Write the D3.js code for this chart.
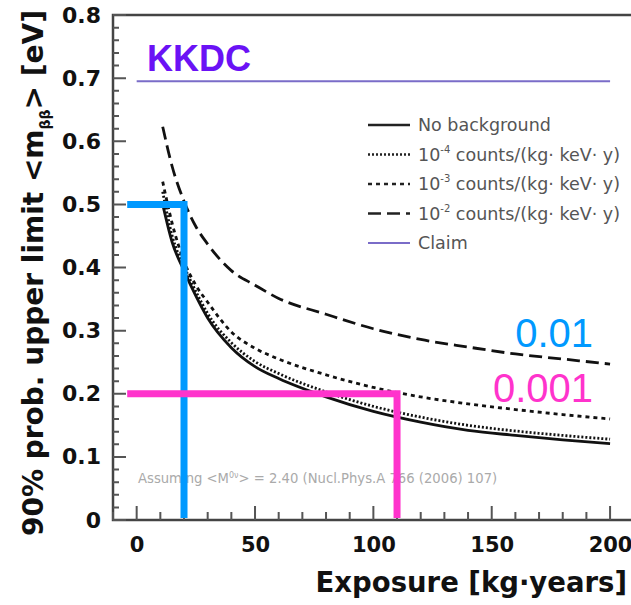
<!DOCTYPE html>
<html>
<head>
<meta charset="utf-8">
<script src="https://cdn.jsdelivr.net/npm/d3@7"></script>
<style>
  body { margin: 0; background: #fff; }
  svg { display: block; font-family: "Liberation Sans", Arial, sans-serif; }
</style>
</head>
<body>
<div id="chart"></div>
<script>
// exposure values (kg·years)
const exposure = [11, 15, 20, 25, 30, 40, 50, 60, 80, 100, 120, 140, 160, 180, 200];
// upper limits on <m_bb> (eV) for each background level
const noBackground = [0.50, 0.44, 0.395, 0.355, 0.320, 0.273, 0.243, 0.224, 0.195, 0.172, 0.155, 0.142, 0.134, 0.127, 0.121];
const bkg1e4 = [0.52, 0.45, 0.402, 0.362, 0.327, 0.281, 0.251, 0.232, 0.203, 0.180, 0.163, 0.150, 0.141, 0.134, 0.128];
const bkg1e3 = [0.536, 0.47, 0.41, 0.372, 0.345, 0.298, 0.272, 0.255, 0.230, 0.210, 0.195, 0.184, 0.175, 0.167, 0.160];
const bkg1e2 = [0.623, 0.56, 0.505, 0.465, 0.437, 0.395, 0.372, 0.351, 0.326, 0.303, 0.286, 0.274, 0.263, 0.255, 0.247];
const claimValue = 0.695;
const claimRange = [0, 200];

const xTicks = [0, 50, 100, 150, 200];
const yTicks = [0, 0.1, 0.2, 0.3, 0.4, 0.5, 0.6, 0.7, 0.8];
const xMinor = d3.range(-10, 211, 10);
const yMinor = d3.range(0, 41).map(i => i * 0.02);

// overlay guide lines
const blueMark = { exposure: 20, limit: 0.5, label: '0.01' };
const pinkMark = { exposure: 110, limit: 0.2, label: '0.001' };
const guideStart = -4;

const series = [
  { name: 'No background', exp: null, values: noBackground, dash: null },
  { name: 'counts/(kg· keV· y)', exp: '-4', values: bkg1e4, dash: '2,2' },
  { name: 'counts/(kg· keV· y)', exp: '-3', values: bkg1e3, dash: '4,4' },
  { name: 'counts/(kg· keV· y)', exp: '-2', values: bkg1e2, dash: '13,6' }
];

const w = 631;
const h = 605;
const padL = 113, padT = 15, baseY = 520;
const boldFont = '"DejaVu Sans", sans-serif';

const x = d3.scaleLinear().domain([-10, 210]).range([padL, padL + 220 * 2.367]);
const y = d3.scaleLinear().domain([0, 0.8]).range([baseY, padT]);

const svg = d3.select('#chart').append('svg')
  .attr('width', w)
  .attr('height', h);

// frame
svg.append('path')
  .attr('d', `M${w},${y(0.8)}H${x(-10)}V${y(0)}H${w}`)
  .attr('fill', 'none')
  .attr('stroke', '#444')
  .attr('stroke-width', 2.5);

// tick marks (inward)
const tickPath = d3.path();
xMinor.forEach(d => {
  tickPath.moveTo(x(d), y(0));
  tickPath.lineTo(x(d), y(0) - (d % 50 === 0 ? 14 : 8));
});
yMinor.forEach((d, i) => {
  tickPath.moveTo(x(-10), y(d));
  tickPath.lineTo(x(-10) + (i % 5 === 0 ? 13 : 6), y(d));
});
svg.append('path')
  .attr('d', tickPath.toString())
  .attr('fill', 'none')
  .attr('stroke', '#555')
  .attr('stroke-width', 2);

// tick labels
svg.append('g')
  .attr('transform', `translate(0,${baseY})`)
  .call(d3.axisBottom(x).tickValues(xTicks).tickSize(0).tickPadding(17).tickFormat(d3.format('d')))
  .call(g => g.select('.domain').remove())
  .call(g => g.selectAll('text').attr('font-size', 21).attr('font-weight', 'bold').attr('fill', '#111')
    .attr('font-family', boldFont));
svg.append('g')
  .attr('transform', `translate(${padL},0)`)
  .call(d3.axisLeft(y).tickValues(yTicks).tickSize(0).tickPadding(12)
    .tickFormat(d => d === 0 ? '0' : d3.format('.1f')(d)))
  .call(g => g.select('.domain').remove())
  .call(g => g.selectAll('text').attr('font-size', 22).attr('font-weight', 'bold').attr('fill', '#111')
    .attr('font-family', boldFont));

// claim line
svg.append('line')
  .attr('x1', x(claimRange[0])).attr('x2', x(claimRange[1]))
  .attr('y1', y(claimValue)).attr('y2', y(claimValue))
  .attr('stroke', '#7a6cc8').attr('stroke-width', 2);

svg.append('text')
  .attr('x', 147).attr('y', 71)
  .attr('font-size', 36).attr('font-weight', 'bold').attr('fill', '#6a12f5')
  .text('KKDC');

// curves
const line = d3.line()
  .x((d, i) => x(exposure[i]))
  .y(d => y(d))
  .curve(d3.curveMonotoneX);

series.forEach(s => {
  svg.append('path')
    .datum(s.values)
    .attr('d', line)
    .attr('fill', 'none')
    .attr('stroke', '#111')
    .attr('stroke-width', 2.8)
    .attr('stroke-dasharray', s.dash);
});

// legend
const legend = svg.append('g').attr('transform', 'translate(368,125)')
  .attr('font-family', '"DejaVu Sans", sans-serif');
const rowH = 29.5;
series.forEach((s, i) => {
  legend.append('line')
    .attr('x1', 0).attr('x2', 42).attr('y1', i * rowH).attr('y2', i * rowH)
    .attr('stroke', '#222').attr('stroke-width', 2.5)
    .attr('stroke-dasharray', s.dash);
  const t = legend.append('text')
    .attr('x', 50).attr('y', i * rowH + 6)
    .attr('font-size', 17.5).attr('fill', '#555');
  if (s.exp) {
    t.append('tspan').text('10');
    t.append('tspan').attr('font-size', 10).attr('dy', -8).text(s.exp);
    t.append('tspan').attr('dy', 8).text(' ' + s.name);
  } else {
    t.text(s.name);
  }
});
legend.append('line')
  .attr('x1', 0).attr('x2', 42).attr('y1', 4 * rowH).attr('y2', 4 * rowH)
  .attr('stroke', '#7a6cc8').attr('stroke-width', 1.8);
legend.append('text')
  .attr('x', 50).attr('y', 4 * rowH + 6)
  .attr('font-size', 17.5).attr('fill', '#555')
  .text('Claim');

// reference note
const note = svg.append('text')
  .attr('x', 138).attr('y', 483)
  .attr('font-family', '"DejaVu Sans", sans-serif')
  .attr('font-size', 13.2).attr('fill', '#aaa');
note.append('tspan').text('Assuming <M');
note.append('tspan').attr('font-size', 8).attr('dy', -5).text('0ν');
note.append('tspan').attr('dy', 5).text('> = 2.40 (Nucl.Phys.A 766 (2006) 107)');

// guide marks
[[blueMark, '#0099ff'], [pinkMark, '#ff33cc']].forEach(([m, c]) => {
  svg.append('path')
    .attr('d', `M${x(guideStart)},${y(m.limit)}H${x(m.exposure)}V${y(0) - 2}`)
    .attr('fill', 'none')
    .attr('stroke', c)
    .attr('stroke-width', 7);
});

svg.append('text')
  .attr('x', 593).attr('y', 347)
  .attr('text-anchor', 'end')
  .attr('font-size', 40).attr('fill', '#0099ff')
  .text(blueMark.label);
svg.append('text')
  .attr('x', 593).attr('y', 402)
  .attr('text-anchor', 'end')
  .attr('font-size', 40).attr('fill', '#ff33cc')
  .text(pinkMark.label);

// axis titles
svg.append('text')
  .attr('x', 627).attr('y', 592)
  .attr('text-anchor', 'end')
  .attr('font-family', boldFont)
  .attr('font-size', 27.5).attr('font-weight', 'bold').attr('fill', '#111')
  .text('Exposure [kg·years]');

const yt = svg.append('text')
  .attr('transform', 'translate(43,273) rotate(-90)')
  .attr('text-anchor', 'middle')
  .attr('font-family', boldFont)
  .attr('font-size', 28).attr('font-weight', 'bold').attr('fill', '#111');
yt.append('tspan').text('90% prob. upper limit <m');
yt.append('tspan').attr('font-size', 14).attr('dy', 7).text('ββ');
yt.append('tspan').attr('dy', -7).text('> [eV]');
</script>
</body>
</html>
